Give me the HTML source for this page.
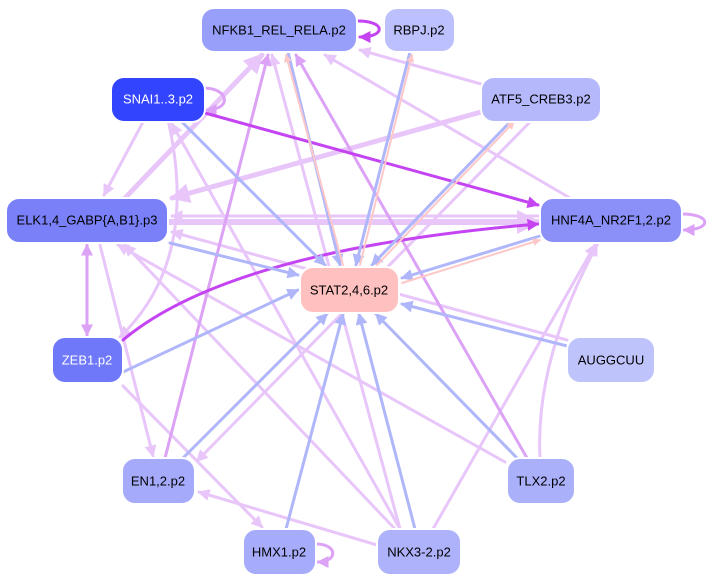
<!DOCTYPE html>
<html><head><meta charset="utf-8"><style>
html,body{margin:0;padding:0;background:#fff;}
svg{display:block;}
text{font-family:"Liberation Sans",sans-serif;font-size:13px;text-anchor:middle;dominant-baseline:central;}
</style></head><body>
<svg width="711" height="581" viewBox="0 0 711 581" xmlns="http://www.w3.org/2000/svg">
<defs>
<marker id="aP" markerWidth="4" markerHeight="4" refX="3.5" refY="2" orient="auto" markerUnits="strokeWidth"><path d="M0,0L4,2L0,4z" fill="#e8c6fa"/></marker>
<marker id="aM" markerWidth="4" markerHeight="4" refX="3.5" refY="2" orient="auto" markerUnits="strokeWidth"><path d="M0,0L4,2L0,4z" fill="#dca2f6"/></marker>
<marker id="aS" markerWidth="4" markerHeight="4" refX="3.5" refY="2" orient="auto" markerUnits="strokeWidth"><path d="M0,0L4,2L0,4z" fill="#c444f2"/></marker>
<marker id="aB" markerWidth="4" markerHeight="4" refX="3.5" refY="2" orient="auto" markerUnits="strokeWidth"><path d="M0,0L4,2L0,4z" fill="#b0b6fa"/></marker>
<marker id="aK" markerWidth="4" markerHeight="4" refX="3.5" refY="2" orient="auto" markerUnits="strokeWidth"><path d="M0,0L4,2L0,4z" fill="#ffc8c8"/></marker>
</defs>
<g fill="none" stroke-linecap="round">
<!-- pale -->
<g stroke="#e8c6fa" stroke-width="3" marker-end="url(#aP)">
<path d="M481,112L172,198" stroke-width="5"/>
<path d="M125,198L262,55" stroke-width="5"/>
<path d="M143,122L104,195"/>
<path d="M481,84L360,50"/>
<path d="M570,198L325,55"/>
<path d="M400,529L272,55"/>
<path d="M400,529L172,124"/>
<path d="M395,529L125,245"/>
<path d="M505,462L118,245"/>
<path d="M567,340L172,232"/>
<path d="M530,122L197,461"/>
<path d="M123,386L262,527"/>
<path d="M377,545L199,492"/>
<path d="M100,245L153,456"/>
<path d="M433,529L595,245"/>
<path d="M540,458Q535,360 597,245"/>
<path d="M168,120Q200,260 120,337"/>
<path d="M168,222L538,222" stroke-width="6"/>
<path d="M540,216L172,216" stroke-width="3"/>
</g>
<!-- medium -->
<g stroke="#dca2f6" stroke-width="3" marker-end="url(#aM)">
<path d="M527,458L296,55"/>
<path d="M165,458L268,55"/>
<path d="M87,243L87,335"/>
<path d="M87,337L87,245"/>
<path d="M203,88C230,88 232,110 206,110"/>
<path d="M682,214C712,214 712,230 684,230"/>
<path d="M316,544C338,544 338,562 318,562"/>
</g>
<!-- strong -->
<g stroke="#c444f2" stroke-width="3" marker-end="url(#aS)">
<path d="M205,113L538,205"/>
<path d="M123,340Q230,250 538,224"/>
<path d="M358,21C386,21 386,37 360,37"/>
</g>
<!-- blue -->
<g stroke="#b0b6fa" stroke-width="3" marker-end="url(#aB)">
<path d="M182,122L325,265"/>
<path d="M288,52L340,265"/>
<path d="M410,52L356,265"/>
<path d="M510,122L372,265"/>
<path d="M540,236L402,278"/>
<path d="M170,243L298,275"/>
<path d="M123,372L298,290"/>
<path d="M567,346L402,304"/>
<path d="M183,458L327,314"/>
<path d="M286,529L343,314"/>
<path d="M415,529L359,314"/>
<path d="M517,458L376,314"/>
</g>
<!-- pink -->
<g stroke="#ffc8c8" stroke-width="2" marker-end="url(#aK)">
<path d="M343,265L286,55"/>
<path d="M360,265L412,55"/>
<path d="M377,265L514,122"/>
<path d="M402,283L540,240"/>
</g>
</g>
<g stroke="#ffffff" stroke-width="2">
<rect x="201" y="8" width="156" height="44" rx="13" fill="#979ffa"/>
<rect x="384" y="8" width="71" height="44" rx="13" fill="#bcc0fc"/>
<rect x="111" y="77" width="94" height="45" rx="13" fill="#3344ff"/>
<rect x="481" y="77" width="120" height="45" rx="13" fill="#b5b9fb"/>
<rect x="6" y="198" width="162" height="45" rx="13" fill="#7a80f8"/>
<rect x="540" y="198" width="142" height="45" rx="13" fill="#8a90f8"/>
<rect x="300" y="267" width="99" height="46" rx="13" fill="#ffc0c0"/>
<rect x="52" y="337" width="71" height="46" rx="13" fill="#6e78f8"/>
<rect x="567" y="337" width="88" height="46" rx="13" fill="#bfc3fb"/>
<rect x="122" y="458" width="73" height="46" rx="13" fill="#a5abfa"/>
<rect x="507" y="458" width="68" height="46" rx="13" fill="#aab0fa"/>
<rect x="243" y="529" width="73" height="46" rx="13" fill="#a6acfa"/>
<rect x="377" y="529" width="84" height="46" rx="13" fill="#adb2fa"/>
</g>
<g fill="#000">
<text x="279" y="30">NFKB1_REL_RELA.p2</text>
<text x="419" y="30">RBPJ.p2</text>
<text x="158" y="99" fill="#fff">SNAI1..3.p2</text>
<text x="541" y="99">ATF5_CREB3.p2</text>
<text x="87" y="220">ELK1,4_GABP{A,B1}.p3</text>
<text x="611" y="220">HNF4A_NR2F1,2.p2</text>
<text x="349" y="290">STAT2,4,6.p2</text>
<text x="87" y="360" fill="#fff">ZEB1.p2</text>
<text x="611" y="360">AUGGCUU</text>
<text x="158" y="481">EN1,2.p2</text>
<text x="541" y="481">TLX2.p2</text>
<text x="279" y="552">HMX1.p2</text>
<text x="419" y="552">NKX3-2.p2</text>
</g>
</svg>
</body></html>
